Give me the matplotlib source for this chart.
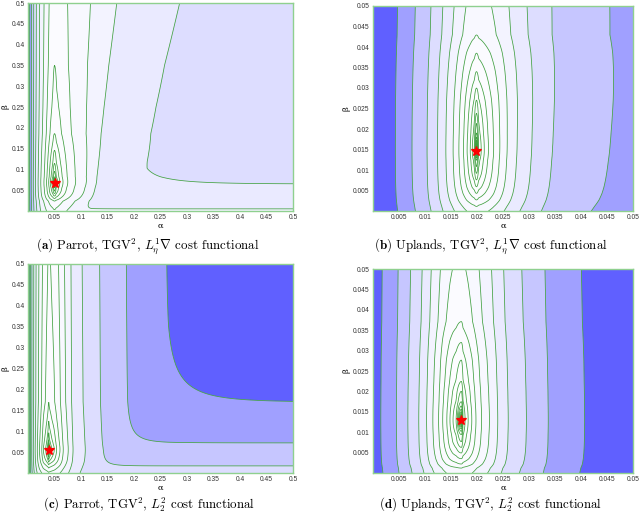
import numpy as np
import matplotlib
matplotlib.use("Agg")
import matplotlib.pyplot as plt
from matplotlib.ticker import FixedLocator, FuncFormatter

plt.rcParams['mathtext.fontset'] = 'cm'
plt.rcParams['font.family'] = 'serif'
plt.rcParams['font.serif'] = ['cmr10', 'DejaVu Serif']
plt.rcParams['axes.formatter.use_mathtext'] = True

# ---------------- data ----------------
# geometric contour levels (normalised cost above the minimum)
level_ratio = 0.6
n_levels = 19
levels = [level_ratio ** k for k in range(n_levels - 1, -1, -1)]

# (a) Parrot, L1_eta grad
a_min = (0.050, 0.068)
a_alpha = [0.0, 0.003, 0.006, 0.010, 0.014, 0.019, 0.024, 0.030, 0.035, 0.039, 0.042,
           0.045, 0.047, 0.050, 0.053, 0.056, 0.060, 0.066, 0.075, 0.090, 0.110, 0.129, 0.215, 0.500]
a_alpha_cost = [1.6, 1.0, 0.6, 0.36, 0.216, 0.13, 0.078, 0.047, 0.028, 0.0168, 0.0101,
                0.006, 0.0036, 0.0, 0.0036, 0.006, 0.0101, 0.0168, 0.028, 0.047, 0.078, 0.13, 0.216, 0.34]
a_beta = [0.0, 0.024, 0.030, 0.036, 0.042, 0.048, 0.056, 0.068, 0.082, 0.095, 0.114,
          0.146, 0.186, 0.25, 0.35, 0.5]
a_beta_cost = [0.05, 0.028, 0.0168, 0.0101, 0.006, 0.0036, 0.0022, 0.0, 0.0022, 0.0036, 0.006,
               0.0101, 0.0168, 0.022, 0.028, 0.032]
a_cap_beta = [0.0, 0.005, 0.065, 0.12, 0.5]
a_cap_cost = [0.10, 0.13, 0.216, 0.30, 0.34]
a_tilt = 1.7
a_sharp = 8

# (b) Uplands, L1_eta grad
b_min = (0.0199, 0.0147)
b_alpha = [0.0, 0.0043, 0.0075, 0.0104, 0.0124, 0.0140, 0.0154, 0.0165, 0.0174, 0.0181, 0.0187,
           0.0191, 0.0195, 0.0199, 0.0203, 0.0208, 0.0214, 0.0222, 0.0232, 0.0244, 0.0258,
           0.0277, 0.0305, 0.0345, 0.0455, 0.0500]
b_alpha_cost = [1.5, 1.0, 0.6, 0.36, 0.216, 0.13, 0.078, 0.047, 0.028, 0.0168, 0.0101,
                0.006, 0.0036, 0.0, 0.0036, 0.006, 0.0101, 0.0168, 0.028, 0.047, 0.078,
                0.13, 0.216, 0.36, 0.6, 0.72]
b_beta = [0.0, 0.0011, 0.0027, 0.0043, 0.0059, 0.0076, 0.0092, 0.0108, 0.0124, 0.0147,
          0.019, 0.0214, 0.0238, 0.027, 0.030, 0.034, 0.0385, 0.043, 0.05]
b_beta_cost = [0.06, 0.047, 0.028, 0.0168, 0.0101, 0.006, 0.0036, 0.0022, 0.0013, 0.0,
               0.0013, 0.0022, 0.0036, 0.006, 0.0101, 0.0168, 0.028, 0.047, 0.058]
b_tilt = 3.0

# (c) Parrot, L2^2
c_min = (0.039, 0.056)
c_alpha = [0.0, 0.0025, 0.0045, 0.007, 0.010, 0.0135, 0.0175, 0.0215, 0.026, 0.029, 0.0334,
           0.0362, 0.0378, 0.039, 0.0402, 0.042, 0.0447, 0.0496, 0.054, 0.0604, 0.0666,
           0.076, 0.085, 0.108, 0.140, 0.190, 0.265, 0.500]
c_alpha_cost = [1.3, 1.0, 0.6, 0.36, 0.216, 0.13, 0.078, 0.047, 0.028, 0.0168, 0.0101,
                0.006, 0.0036, 0.0, 0.0022, 0.0036, 0.006, 0.0101, 0.0168, 0.028, 0.047,
                0.078, 0.13, 0.216, 0.36, 0.6, 1.0, 2.0]
c_beta = [0.0, 0.012, 0.020, 0.026, 0.032, 0.038, 0.045, 0.056, 0.068, 0.080, 0.097,
          0.125, 0.170, 0.5]
c_beta_cost = [0.05, 0.028, 0.0168, 0.0101, 0.006, 0.0036, 0.0016, 0.0, 0.0016, 0.0036,
               0.006, 0.0101, 0.0168, 0.024]
c_cap_beta = [0.0, 0.017, 0.072, 0.170, 0.5]
c_cap_cost = [0.28, 0.36, 0.6, 1.0, 1.9]
c_tilt = 0.0
c_sharp = 5.5

# (d) Uplands, L2^2
d_min = (0.0170, 0.0129)
d_alpha = [0.0, 0.0015, 0.0045, 0.0067, 0.0088, 0.0103, 0.0115, 0.0126, 0.0134, 0.0142,
           0.0148, 0.0154, 0.0160, 0.0170, 0.0173, 0.0177, 0.0183, 0.0190, 0.0198, 0.0209,
           0.0224, 0.0240, 0.0260, 0.0295, 0.0337, 0.0407, 0.0500]
d_alpha_cost = [1.3, 1.0, 0.6, 0.36, 0.216, 0.13, 0.078, 0.047, 0.028, 0.0168,
                0.0101, 0.006, 0.0036, 0.0, 0.0036, 0.006, 0.0101, 0.0168, 0.028, 0.047,
                0.078, 0.13, 0.216, 0.36, 0.6, 1.0, 1.6]
d_beta = [0.0, 0.0012, 0.0022, 0.0035, 0.0049, 0.0063, 0.0077, 0.0094, 0.0129, 0.0175,
          0.0200, 0.0224, 0.0277, 0.0320, 0.0371, 0.0500]
d_beta_cost = [0.06, 0.047, 0.028, 0.0168, 0.0101, 0.006, 0.0036, 0.0022, 0.0, 0.0022,
               0.0036, 0.006, 0.0101, 0.0168, 0.028, 0.040]
d_tilt = 0.0

captions = [r"$\mathbf{(a)}$ Parrot, TGV$^2$, $L^1_\eta\nabla$ cost functional",
            r"$\mathbf{(b)}$ Uplands, TGV$^2$, $L^1_\eta\nabla$ cost functional",
            r"$\mathbf{(c)}$ Parrot, TGV$^2$, $L^2_2$ cost functional",
            r"$\mathbf{(d)}$ Uplands, TGV$^2$, $L^2_2$ cost functional"]

panels = [
    dict(mn=a_min, al=a_alpha, ac=a_alpha_cost, be=a_beta, bc=a_beta_cost,
         qb=a_cap_beta, qc=a_cap_cost, tilt=a_tilt, sharp=a_sharp, lim=0.5),
    dict(mn=b_min, al=b_alpha, ac=b_alpha_cost, be=b_beta, bc=b_beta_cost,
         qb=None, qc=None, tilt=b_tilt, sharp=4, lim=0.05),
    dict(mn=c_min, al=c_alpha, ac=c_alpha_cost, be=c_beta, bc=c_beta_cost,
         qb=c_cap_beta, qc=c_cap_cost, tilt=c_tilt, sharp=c_sharp, lim=0.5),
    dict(mn=d_min, al=d_alpha, ac=d_alpha_cost, be=d_beta, bc=d_beta_cost,
         qb=None, qc=None, tilt=d_tilt, sharp=4, lim=0.05),
]

# ---------------- helpers ----------------
def profile(x, nodes, costs, center):
    nodes = np.asarray(nodes, float)
    costs = np.asarray(costs, float)
    s = np.sqrt(costs) * np.where(nodes < center, -1.0, 1.0)
    return np.interp(x, nodes, s) ** 2


def field(p, n=700):
    lim = p['lim']
    ag = np.linspace(0, lim, n)
    bg = np.linspace(0, lim, int(n * 0.75))
    A, B = np.meshgrid(ag, bg)
    a0, b0 = p['mn']
    scale = 1 + p['tilt'] * (B - b0)
    X = np.where(A > a0, a0 + (A - a0) / scale, A)
    P = profile(X, p['al'], p['ac'], a0)
    G = profile(B, p['be'], p['bc'], b0)
    Z = P + G
    if p['qb'] is not None:
        k = float(p['sharp'])
        Q = np.interp(B, p['qb'], p['qc']) + 10 * np.where(A < a0, P, 0.0)
        with np.errstate(divide='ignore'):
            Z = (Z ** -k + Q ** -k) ** (-1.0 / k)
    return ag, bg, Z


blue = np.array([0x60, 0x60, 0xff]) / 255.0
white = np.ones(3)

def shade(t):
    t = min(max(t, 0.0), 1.0)
    return tuple(white * (1 - t) + blue * t)

fill_levels = [-1.0] + levels + [1e6]
fill_colors = [shade(0.0)] + [shade(levels[i]) for i in range(len(levels))]

line_green = '#3f9f3f'
spine_green = '#8fd08f'

fig = plt.figure(figsize=(6.4, 5.16), dpi=100)
rects = [
    (28, 3, 293, 211),
    (373, 6, 633, 211),
    (28, 264, 293, 473),
    (373, 269, 633, 473),
]
W, H = 640.0, 516.0
cap_pos = [(148, 246), (491, 246), (149, 505), (491, 505)]

for p, r, cap, cp in zip(panels, rects, captions, cap_pos):
    x0, y0, x1, y1 = r
    ax = fig.add_axes([x0 / W, 1 - y1 / H, (x1 - x0) / W, (y1 - y0) / H])
    ag, bg, Z = field(p)
    ax.contourf(ag, bg, Z, levels=fill_levels, colors=fill_colors, antialiased=True)
    ax.contour(ag, bg, Z, levels=levels, colors=line_green, linewidths=0.55)
    ax.plot([p['mn'][0]], [p['mn'][1]], marker='*', color='red', markersize=7.5,
            markeredgecolor='red', markeredgewidth=0.9)
    lim = p['lim']
    ax.set_xlim(0, lim)
    ax.set_ylim(0, lim)
    ticks = [lim * k / 10 for k in range(1, 11)]
    fmt = FuncFormatter(lambda v, pos: ('%.3f' % v).rstrip('0').rstrip('.'))
    ax.xaxis.set_major_locator(FixedLocator(ticks))
    ax.yaxis.set_major_locator(FixedLocator(ticks))
    ax.xaxis.set_major_formatter(fmt)
    ax.yaxis.set_major_formatter(fmt)
    ax.tick_params(length=0, pad=2.5, labelsize=4.8, labelcolor='#333333')
    for lab in ax.get_xticklabels() + ax.get_yticklabels():
        lab.set_family('Liberation Sans')
    ax.set_xlabel('α', fontsize=6, labelpad=0.5, family='DejaVu Serif')
    ax.set_ylabel('β', fontsize=6, labelpad=1.5, family='DejaVu Serif')
    for s in ax.spines.values():
        s.set_color(spine_green)
        s.set_linewidth(1.0)
    fig.text(cp[0] / W, 1 - cp[1] / H, cap, ha='center', va='center', fontsize=9.3)

fig.savefig('out.png', dpi=100)
